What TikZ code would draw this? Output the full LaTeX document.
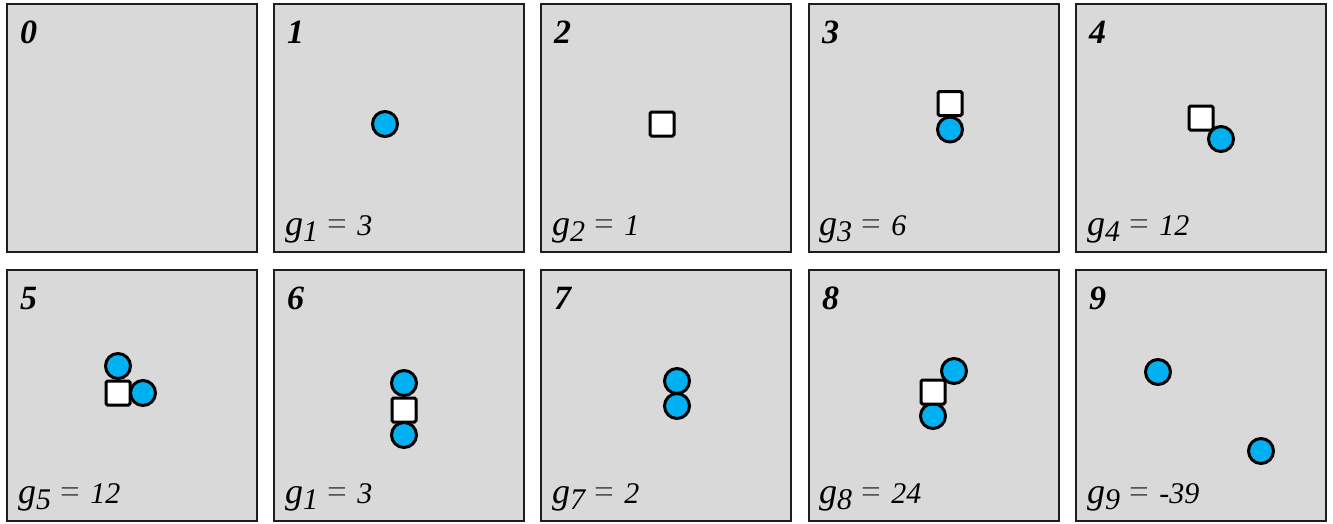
\documentclass[tikz,border=0pt]{standalone}
\usepackage{fontspec}
\setmainfont{Liberation Serif}
\definecolor{panelfill}{HTML}{D9D9D9}
\definecolor{panelline}{HTML}{1E1E1E}
\definecolor{ballblue}{HTML}{00B0F0}
\definecolor{eqgray}{HTML}{555555}
\newcommand{\gsub}[2]{\scalebox{1.2}{\textit{g}}\raisebox{-0.22em}{\itshape #1}\hspace{0.3em}{\fontsize{35}{35}\selectfont\color{eqgray}=}\hspace{0.35em}\textit{#2}}
\tikzset{
  panel/.style={draw=panelline, fill=panelfill, line width=1.8pt, minimum width=250pt, minimum height=248pt, inner sep=0pt, anchor=north west},
  num/.style={anchor=base west, inner sep=0pt, font=\fontsize{34}{34}\selectfont\bfseries\itshape},
  glabel/.style={anchor=base west, inner sep=0pt, font=\fontsize{30}{30}\selectfont},
  ball/.style={circle, draw=black, fill=ballblue, line width=3pt, minimum size=25pt, inner sep=0pt},
  sq/.style={rectangle, draw=black, fill=white, line width=3pt, minimum size=24pt, inner sep=0pt, rounded corners=1.5pt}
}
\begin{document}
\begin{tikzpicture}[x=1pt, y=-1pt]
\useasboundingbox (0,0) rectangle (1333,523);
% panels
\foreach \i/\x/\y/\h in {0/6/3/248, 1/273/3/248, 2/540/3/248, 3/808/3/248, 4/1075/3/248,
                        5/6/269/251, 6/273/269/251, 7/540/269/251, 8/808/269/251, 9/1075/269/251} {
  \node[panel, minimum height=\h pt] (p\i) at (\x,\y) {};
  \node[num] (n\i) at (\x+14,\y+40) {\i};
}
% labels
\node[glabel] (g1) at (285,235) {\gsub{1}{3}};
\node[glabel] (g2) at (552,235) {\gsub{2}{1}};
\node[glabel] (g3) at (819,235) {\gsub{3}{6}};
\node[glabel] (g4) at (1087,235) {\gsub{4}{12}};
\node[glabel] (g5) at (18,503) {\gsub{5}{12}};
\node[glabel] (g6) at (285,503) {\gsub{1}{3}};
\node[glabel] (g7) at (552,503) {\gsub{7}{2}};
\node[glabel] (g8) at (819,503) {\gsub{8}{24}};
\node[glabel] (g9) at (1087,503) {\gsub{9}{-39}};
% panel 1
\node[ball] (b1) at (385,124) {};
% panel 2
\node[sq] (s2) at (662,124) {};
% panel 3
\node[ball] (b3) at (950,129.5) {};
\node[sq] (s3) at (950,103.5) {};
% panel 4
\node[sq] (s4) at (1201,118) {};
\node[ball] (b4) at (1221,139) {};
% panel 5
\node[ball] (b5a) at (118,366) {};
\node[ball] (b5b) at (143,393) {};
\node[sq] (s5) at (118,393) {};
% panel 6
\node[ball] (b6a) at (404,383) {};
\node[ball] (b6b) at (404,435) {};
\node[sq] (s6) at (404,410) {};
% panel 7
\node[ball] (b7a) at (677,381) {};
\node[ball] (b7b) at (677,406) {};
% panel 8
\node[ball] (b8a) at (954,371) {};
\node[ball] (b8b) at (933,416) {};
\node[sq] (s8) at (933,392) {};
% panel 9
\node[ball] (b9a) at (1158,372) {};
\node[ball] (b9b) at (1261,451) {};
\end{tikzpicture}
\end{document}
